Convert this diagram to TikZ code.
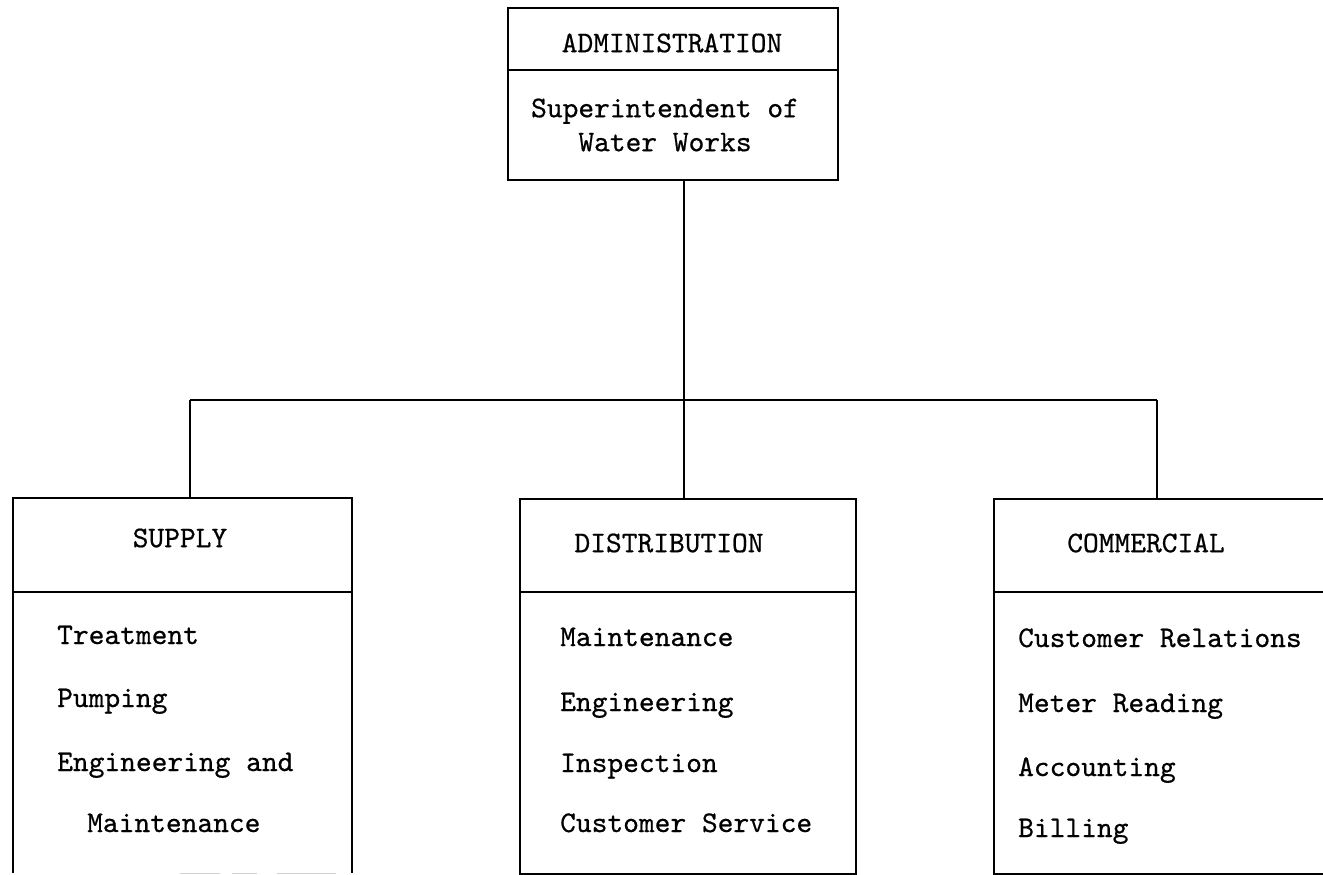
\documentclass[tikz,border=0pt]{standalone}
\usepackage{fontspec}
\newfontfamily\typewriter{lmmono10-regular.otf}[FakeBold=0.6]
\begin{document}
\begin{tikzpicture}[x=1pt,y=-1pt,
  frame/.style={draw, line width=2pt, inner sep=0pt, anchor=north west},
  openframe/.style={inner sep=0pt, anchor=north west},
  rule/.style={line width=1.8pt},
  link/.style={line width=1.8pt},
  worn/.style={line width=1pt, black!18, dash pattern=on 40pt off 12pt on 25pt off 20pt on 60pt off 8pt},
  head/.style={font=\fontsize{30}{34}\selectfont\typewriter, inner sep=0pt},
  item/.style={font=\fontsize{30}{34}\selectfont\typewriter, inner sep=0pt, anchor=base west}]
\useasboundingbox (0,0) rectangle (1323,875);
\clip (0,0) rectangle (1323,875);

% administration box
\node[frame, minimum width=330, minimum height=172] (adm) at (507,7) {};
\draw[rule] (adm.west |- 0,70) -- (adm.east |- 0,70);
\node[head] (admT) at (672,43) {ADMINISTRATION};
\node[head, align=center] (admS) at (665,125) {Superintendent of\\Water Works};

% division boxes (the supply box has only a worn trace of its bottom edge)
\node[openframe, minimum width=339, minimum height=375] (sup) at (13,498) {};
\draw[line width=2pt] (sup.south west) -- (sup.north west) -- (sup.north east) -- (sup.south east);
\draw[worn] (180,873.5) -- (336,873.5);
\node[frame, minimum width=336, minimum height=375] (dis) at (519,498) {};
\node[frame, minimum width=360, minimum height=375] (com) at (993,498) {};
\draw[rule] (sup.west |- 0,592) -- (sup.east |- 0,592);
\draw[rule] (dis.west |- 0,592) -- (dis.east |- 0,592);
\draw[rule] (com.west |- 0,592) -- (com.east |- 0,592);

% headings
\node[head] (supT) at (180,538) {SUPPLY};
\node[head] (disT) at (669,543) {DISTRIBUTION};
\node[head] (comT) at (1146,543) {COMMERCIAL};

% supply functions
\node[item] (s1) at (57,644) {Treatment};
\node[item] (s2) at (57,707) {Pumping};
\node[item] (s3) at (57,771) {Engineering and};
\node[item] (s4) at (87,832) {Maintenance};

% distribution functions
\node[item] (d1) at (560,646) {Maintenance};
\node[item] (d2) at (560,711) {Engineering};
\node[item] (d3) at (560,772) {Inspection};
\node[item] (d4) at (560,832) {Customer Service};

% commercial functions
\node[item] (c1) at (1018,647) {Customer Relations};
\node[item] (c2) at (1018,712) {Meter Reading};
\node[item] (c3) at (1018,776) {Accounting};
\node[item] (c4) at (1018,837) {Billing};

% connectors
\coordinate (hub) at (684,400);
\coordinate (sj) at (190,400);
\coordinate (cj) at (1157,400);
\draw[link] (adm.south -| hub) -- (hub);
\draw[link] (sj) -- (cj);
\draw[link] (sj) -- (sj |- sup.north);
\draw[link] (hub) -- (hub |- dis.north);
\draw[link] (cj) -- (cj |- com.north);
\end{tikzpicture}
\end{document}
